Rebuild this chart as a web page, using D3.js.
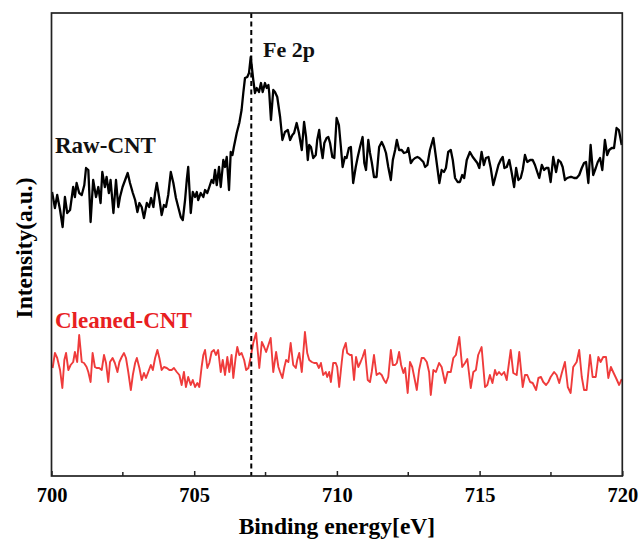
<!DOCTYPE html>
<html>
<head>
<meta charset="utf-8">
<script src="https://cdn.jsdelivr.net/npm/d3@7"></script>
<style>
  html, body { margin: 0; padding: 0; background: #fff; }
  svg { display: block; }
  text { font-family: "Liberation Serif", "Times New Roman", serif; font-weight: bold; }
</style>
</head>
<body>
<svg id="chart" width="642" height="542"></svg>
<script>
// Fe 2p XPS region: binding energy (eV) and intensity (a.u.)
const rawEnergy = [
  700.02,700.12,700.20,700.30,700.39,700.47,700.55,700.65,700.76,700.82,700.88,700.97,701.06,701.15,701.21,701.29,701.37,701.46,701.56,701.64,
  701.72,701.78,701.87,701.93,702.01,702.07,702.17,702.26,702.34,702.40,702.49,702.58,702.67,702.75,702.85,702.93,703.01,703.08,703.16,703.24,
  703.34,703.42,703.49,703.57,703.63,703.69,703.77,703.86,703.94,704.01,704.09,704.18,704.27,704.36,704.44,704.53,704.60,704.68,704.74,704.79,
  704.88,704.95,705.03,705.09,705.14,705.23,705.32,705.38,705.46,705.53,705.61,705.67,705.73,705.79,705.87,705.93,706.02,706.08,706.14,706.22,
  706.28,706.34,706.39,706.49,706.58,706.66,706.72,706.78,706.86,706.92,706.98,707.07,707.13,707.19,707.27,707.34,707.40,707.48,707.54,707.60,
  707.63,707.69,707.77,707.83,707.91,708.01,708.09,708.18,708.28,708.36,708.44,708.50,708.59,708.67,708.77,708.85,708.92,708.98,709.03,709.09,
  709.17,709.26,709.31,709.38,709.44,709.50,709.56,709.64,709.70,709.76,709.84,709.91,709.99,710.07,710.14,710.20,710.28,710.34,710.42,710.49,
  710.57,710.66,710.73,710.81,710.90,710.96,711.02,711.10,711.16,711.22,711.30,711.39,711.48,711.57,711.65,711.72,711.80,711.89,711.96,712.04,
  712.10,712.18,712.27,712.35,712.45,712.50,712.59,712.66,712.74,712.82,712.89,713.03,713.09,713.17,713.26,713.38,713.47,713.59,713.67,713.75,
  713.82,713.90,713.99,714.06,714.14,714.23,714.31,714.39,714.46,714.55,714.66,714.76,714.84,714.92,714.99,715.07,715.15,715.22,715.31,715.39,
  715.48,715.57,715.66,715.74,715.81,715.87,715.95,716.04,716.12,716.21,716.28,716.36,716.44,716.51,716.59,716.67,716.77,716.86,716.94,717.02,
  717.09,717.18,717.26,717.33,717.41,717.49,717.58,717.68,717.76,717.84,717.91,717.99,718.07,718.17,718.23,718.31,718.40,718.49,718.58,718.66,
  718.73,718.81,718.89,718.98,719.07,719.14,719.22,719.30,719.39,719.47,719.54,719.63,719.71,719.80,719.88,719.98
];
const rawIntensity = [
  284,268,281,266,249,279,263,266,289,279,293,283,281,291,308,306,254,296,279,289,
  273,304,289,299,283,296,263,296,269,279,289,296,303,293,283,276,264,273,269,258,
  273,269,278,269,283,293,279,261,271,269,281,304,293,278,269,259,256,276,296,309,
  263,284,279,284,276,283,279,286,283,289,296,293,306,291,309,289,316,309,319,286,
  324,321,329,343,353,366,383,398,399,403,419,396,383,388,384,393,384,393,388,391,
  383,356,386,384,379,359,336,344,346,336,341,343,353,343,326,354,339,316,331,329,
  318,321,336,346,329,318,333,338,339,333,319,318,358,351,329,309,319,318,328,329,
  293,309,319,329,339,313,306,336,323,314,299,299,329,334,329,323,309,296,316,326,
  336,326,326,323,324,328,313,316,318,319,318,314,309,311,326,338,319,293,306,304,
  308,324,326,316,298,294,294,301,298,316,324,319,316,313,308,324,311,318,319,308,
  291,301,311,316,319,308,309,316,304,289,308,296,298,306,321,314,316,316,311,304,
  298,311,306,308,308,294,319,304,316,314,309,296,298,299,299,298,298,301,308,313,
  314,293,331,301,308,314,318,306,336,321,326,328,328,348,346,331
];

const cleanedEnergy = [
  700.04,700.12,700.20,700.30,700.38,700.45,700.51,700.59,700.67,700.76,700.82,700.90,700.97,701.06,701.14,701.23,701.29,701.37,701.44,701.52,
  701.58,701.67,701.76,701.84,701.91,701.99,702.05,702.14,702.22,702.31,702.38,702.46,702.54,702.61,702.69,702.78,702.85,702.93,702.99,703.08,
  703.16,703.24,703.31,703.39,703.48,703.55,703.63,703.71,703.78,703.86,703.94,704.04,704.13,704.21,704.29,704.39,704.48,704.56,704.64,704.71,
  704.79,704.88,704.95,705.03,705.11,705.18,705.26,705.32,705.38,705.46,705.53,705.61,705.69,705.76,705.84,705.93,706.00,706.08,706.16,706.23,
  706.31,706.37,706.45,706.51,706.58,706.66,706.75,706.82,706.90,706.98,707.07,707.17,707.28,707.37,707.45,707.52,707.60,707.68,707.77,707.87,
  707.95,708.01,708.09,708.16,708.22,708.30,708.38,708.47,708.56,708.61,708.68,708.77,708.88,708.96,709.03,709.12,709.20,709.29,709.37,709.44,
  709.52,709.61,709.66,709.73,709.79,709.87,709.96,710.01,710.08,710.17,710.22,710.31,710.36,710.46,710.52,710.60,710.67,710.75,710.83,710.90,
  710.98,711.08,711.16,711.22,711.30,711.39,711.49,711.57,711.65,711.72,711.80,711.89,711.96,712.04,712.10,712.18,712.25,712.33,712.39,712.48,
  712.56,712.64,712.71,712.80,712.88,712.97,713.05,713.15,713.23,713.29,713.38,713.47,713.58,713.67,713.79,713.88,713.99,714.08,714.17,714.29,
  714.39,714.49,714.57,714.69,714.78,714.87,714.95,715.07,715.19,715.27,715.36,715.45,715.54,715.60,715.68,715.77,715.86,715.95,716.09,716.18,
  716.30,716.39,716.51,716.59,716.67,716.77,716.86,716.98,717.06,717.15,717.23,717.33,717.41,717.49,717.61,717.70,717.79,717.88,717.99,718.09,
  718.19,718.28,718.40,718.49,718.58,718.66,718.75,718.87,718.96,719.07,719.16,719.24,719.33,719.43,719.51,719.60,719.68,719.78,719.89,719.98
];
const cleanedIntensity = [
  108,123,118,106,88,116,123,106,111,114,124,114,141,114,113,109,104,94,123,109,
  108,108,106,121,113,94,114,118,113,104,114,119,123,118,104,86,101,113,118,108,
  96,103,98,104,111,106,118,126,118,106,109,108,106,106,108,104,101,91,104,89,
  99,91,96,89,93,89,109,121,126,108,113,124,126,121,126,104,116,101,119,104,
  121,98,118,129,121,123,116,106,108,119,133,143,108,134,129,124,131,138,104,124,
  109,104,98,109,116,114,133,111,108,116,123,104,144,123,116,114,113,113,108,113,
  101,104,99,104,94,113,113,109,89,114,126,133,123,121,121,96,119,109,114,119,
  126,96,94,104,121,101,103,101,96,93,99,126,111,111,113,124,111,103,108,83,
  114,109,99,86,106,118,118,114,104,81,106,104,113,109,93,104,104,118,121,139,
  109,113,117,88,104,106,121,129,89,91,101,93,106,101,104,101,104,96,126,103,
  101,124,89,101,101,94,93,86,98,99,94,91,94,99,104,101,93,103,114,89,
  83,109,114,126,99,86,86,121,99,99,119,114,119,119,98,109,104,98,91,97
];

// Axis ticks and annotations
const majorTicks = [700, 705, 710, 715, 720];
const minorTicks = [702.5, 707.5, 712.5, 717.5];
const peakPosition = 707;
const peakLabel = "Fe 2p";
const seriesNames = ["Raw-CNT", "Cleaned-CNT"];
const seriesColors = ["#000000", "#ef3b3b"];
const labelColors = ["#111111", "#e8201f"];

const svg = d3.select("#chart");
const plot = { left: 51.5, right: 622.3, top: 13, bottom: 476 };

const x = d3.scaleLinear().domain([700, 720]).range([plot.left, plot.right]);
const y = d3.scaleLinear().domain([0, 463]).range([plot.bottom, plot.top]);

// spectra
const line = d3.line().x(d => x(d[0])).y(d => y(d[1]));
const rawData = d3.zip(rawEnergy, rawIntensity);
const cleanedData = d3.zip(cleanedEnergy, cleanedIntensity);

svg.append("path").datum(cleanedData)
  .attr("d", line).attr("fill", "none")
  .attr("stroke", seriesColors[1]).attr("stroke-width", 1.9)
  .attr("stroke-linejoin", "round");

svg.append("path").datum(rawData)
  .attr("d", line).attr("fill", "none")
  .attr("stroke", seriesColors[0]).attr("stroke-width", 2.3)
  .attr("stroke-linejoin", "round");

// peak marker
svg.append("line")
  .attr("x1", x(peakPosition)).attr("x2", x(peakPosition))
  .attr("y1", plot.top).attr("y2", plot.bottom)
  .attr("stroke", "#000").attr("stroke-width", 2)
  .attr("stroke-dasharray", "5,3.5");

// frame
svg.append("rect")
  .attr("x", plot.left).attr("y", plot.top)
  .attr("width", plot.right - plot.left).attr("height", plot.bottom - plot.top)
  .attr("fill", "none").attr("stroke", "#222").attr("stroke-width", 1.7);

// bottom axis: inward ticks
const xAxis = d3.axisBottom(x).tickValues(majorTicks).tickSizeInner(-5).tickSizeOuter(0)
  .tickFormat(d3.format("d")).tickPadding(11);
const gx = svg.append("g").attr("transform", `translate(0,${plot.bottom})`).call(xAxis);
gx.select(".domain").remove();
gx.selectAll(".tick line").attr("stroke", "#222").attr("stroke-width", 1.5);
gx.selectAll(".tick text")
  .attr("fill", "#000")
  .style("font-family", '"Liberation Serif", "Times New Roman", serif')
  .style("font-weight", "bold").style("font-size", "20.5px");

svg.append("g").selectAll("line").data(minorTicks).join("line")
  .attr("x1", d => x(d)).attr("x2", d => x(d))
  .attr("y1", plot.bottom).attr("y2", plot.bottom - 4)
  .attr("stroke", "#222").attr("stroke-width", 1.5);

// axis titles
svg.append("text")
  .attr("x", (plot.left + plot.right) / 2).attr("y", 534)
  .attr("text-anchor", "middle").attr("font-size", 23.5).attr("fill", "#000")
  .text("Binding energy[eV]");

svg.append("text")
  .attr("transform", "translate(32,248) rotate(-90)")
  .attr("text-anchor", "middle").attr("font-size", 23.5).attr("fill", "#000")
  .text("Intensity(a.u.)");

// annotations
svg.append("text")
  .attr("x", 263).attr("y", 57).attr("font-size", 22).attr("fill", "#111")
  .text(peakLabel);

svg.append("text")
  .attr("x", 55).attr("y", 153).attr("font-size", 23).attr("fill", labelColors[0])
  .text(seriesNames[0]);

svg.append("text")
  .attr("x", 55).attr("y", 328).attr("font-size", 23).attr("fill", labelColors[1])
  .text(seriesNames[1]);
</script>
</body>
</html>
